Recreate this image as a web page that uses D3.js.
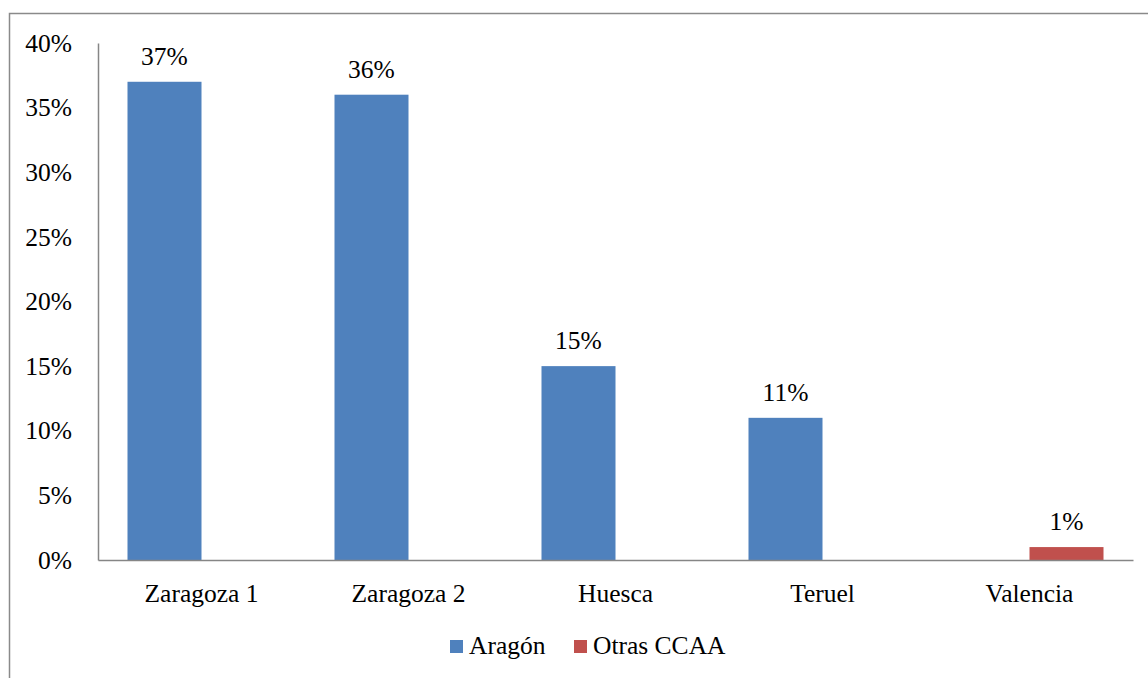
<!DOCTYPE html>
<html>
<head>
<meta charset="utf-8">
<script src="https://cdn.jsdelivr.net/npm/d3@7"></script>
<style>
  body { margin: 0; background: #fff; }
  text { font-family: "Liberation Serif", "Times New Roman", serif; fill: #000; }
</style>
</head>
<body>
<svg id="chart" width="1148" height="678"></svg>
<script>
var categories = ["Zaragoza 1", "Zaragoza 2", "Huesca", "Teruel", "Valencia"];
var seriesNames = ["Aragón", "Otras CCAA"];
var aragon = [0.37, 0.36, 0.15, 0.11, 0];
var otras = [0, 0, 0, 0, 0.01];
var yTicks = [0, 0.05, 0.10, 0.15, 0.20, 0.25, 0.30, 0.35, 0.40];
var colors = ["#4F81BD", "#C0504D"];

var svg = d3.select("#chart");
var fontSize = 25.5;

// plot area edges
var plotLeft = 98, plotRight = 1133, plotTop = 43, plotBottom = 560;

// outer frame (only top and left visible)
svg.append("rect")
  .attr("x", 9.5).attr("y", 13.5)
  .attr("width", 1200).attr("height", 700)
  .attr("fill", "none")
  .attr("stroke", "#8a8a8a")
  .attr("stroke-width", 1.5);

var xScale = d3.scaleBand()
  .domain(categories)
  .range([plotLeft, plotRight])
  .paddingInner(0.285)
  .paddingOuter(0.1425);

var innerScale = d3.scaleBand()
  .domain(seriesNames)
  .range([0, xScale.bandwidth()]);

var yScale = d3.scaleLinear()
  .domain([0, 0.4])
  .range([plotBottom, plotTop]);

var rows = categories.map(function (c, i) {
  return { cat: c, values: [aragon[i], otras[i]] };
});

var groups = svg.selectAll("g.cat")
  .data(rows)
  .enter().append("g")
  .attr("class", "cat")
  .attr("transform", function (d) { return "translate(" + xScale(d.cat) + ",0)"; });

function nonZero(d) {
  return d.values
    .map(function (v, j) { return { s: seriesNames[j], v: v, j: j }; })
    .filter(function (e) { return e.v > 0; });
}

groups.selectAll("rect")
  .data(nonZero)
  .enter().append("rect")
  .attr("x", function (d) { return innerScale(d.s); })
  .attr("y", function (d) { return yScale(d.v); })
  .attr("width", innerScale.bandwidth())
  .attr("height", function (d) { return plotBottom - yScale(d.v); })
  .attr("fill", function (d) { return colors[d.j]; });

// value labels above bars
groups.selectAll("text.val")
  .data(nonZero)
  .enter().append("text")
  .attr("class", "val")
  .attr("x", function (d) { return innerScale(d.s) + innerScale.bandwidth() / 2; })
  .attr("y", function (d) { return yScale(d.v) - 17; })
  .attr("text-anchor", "middle")
  .style("font-size", fontSize + "px")
  .text(function (d) { return Math.round(d.v * 100) + "%"; });

// y axis
var leftAxis = d3.axisLeft(yScale)
  .tickValues(yTicks)
  .tickFormat(d3.format(".0%"))
  .tickSize(0)
  .tickPadding(26);
var yAxisG = svg.append("g")
  .attr("transform", "translate(" + plotLeft + ",0)")
  .call(leftAxis);
yAxisG.select(".domain").attr("stroke", "#868686").attr("stroke-width", 1.5);
yAxisG.selectAll("text")
  .style("font-size", fontSize + "px")
  .style("font-family", "Liberation Serif, Times New Roman, serif")
  .attr("fill", "#000");

// x axis
var bottomAxis = d3.axisBottom(xScale).tickSize(0).tickPadding(24);
var xAxisG = svg.append("g")
  .attr("transform", "translate(0," + plotBottom + ")")
  .call(bottomAxis);
xAxisG.select(".domain").attr("stroke", "#868686").attr("stroke-width", 1.5);
xAxisG.selectAll("text")
  .style("font-size", fontSize + "px")
  .style("font-family", "Liberation Serif, Times New Roman, serif")
  .attr("fill", "#000");

// legend
var legendX = [450, 574];
var legend = svg.selectAll("g.legend")
  .data(seriesNames)
  .enter().append("g")
  .attr("class", "legend")
  .attr("transform", function (d, i) { return "translate(" + legendX[i] + ",640)"; });
legend.append("rect")
  .attr("width", 13).attr("height", 13)
  .attr("fill", function (d, i) { return colors[i]; });
legend.append("text")
  .attr("x", 19).attr("y", 14)
  .style("font-size", fontSize + "px")
  .text(function (d) { return d; });
</script>
</body>
</html>
